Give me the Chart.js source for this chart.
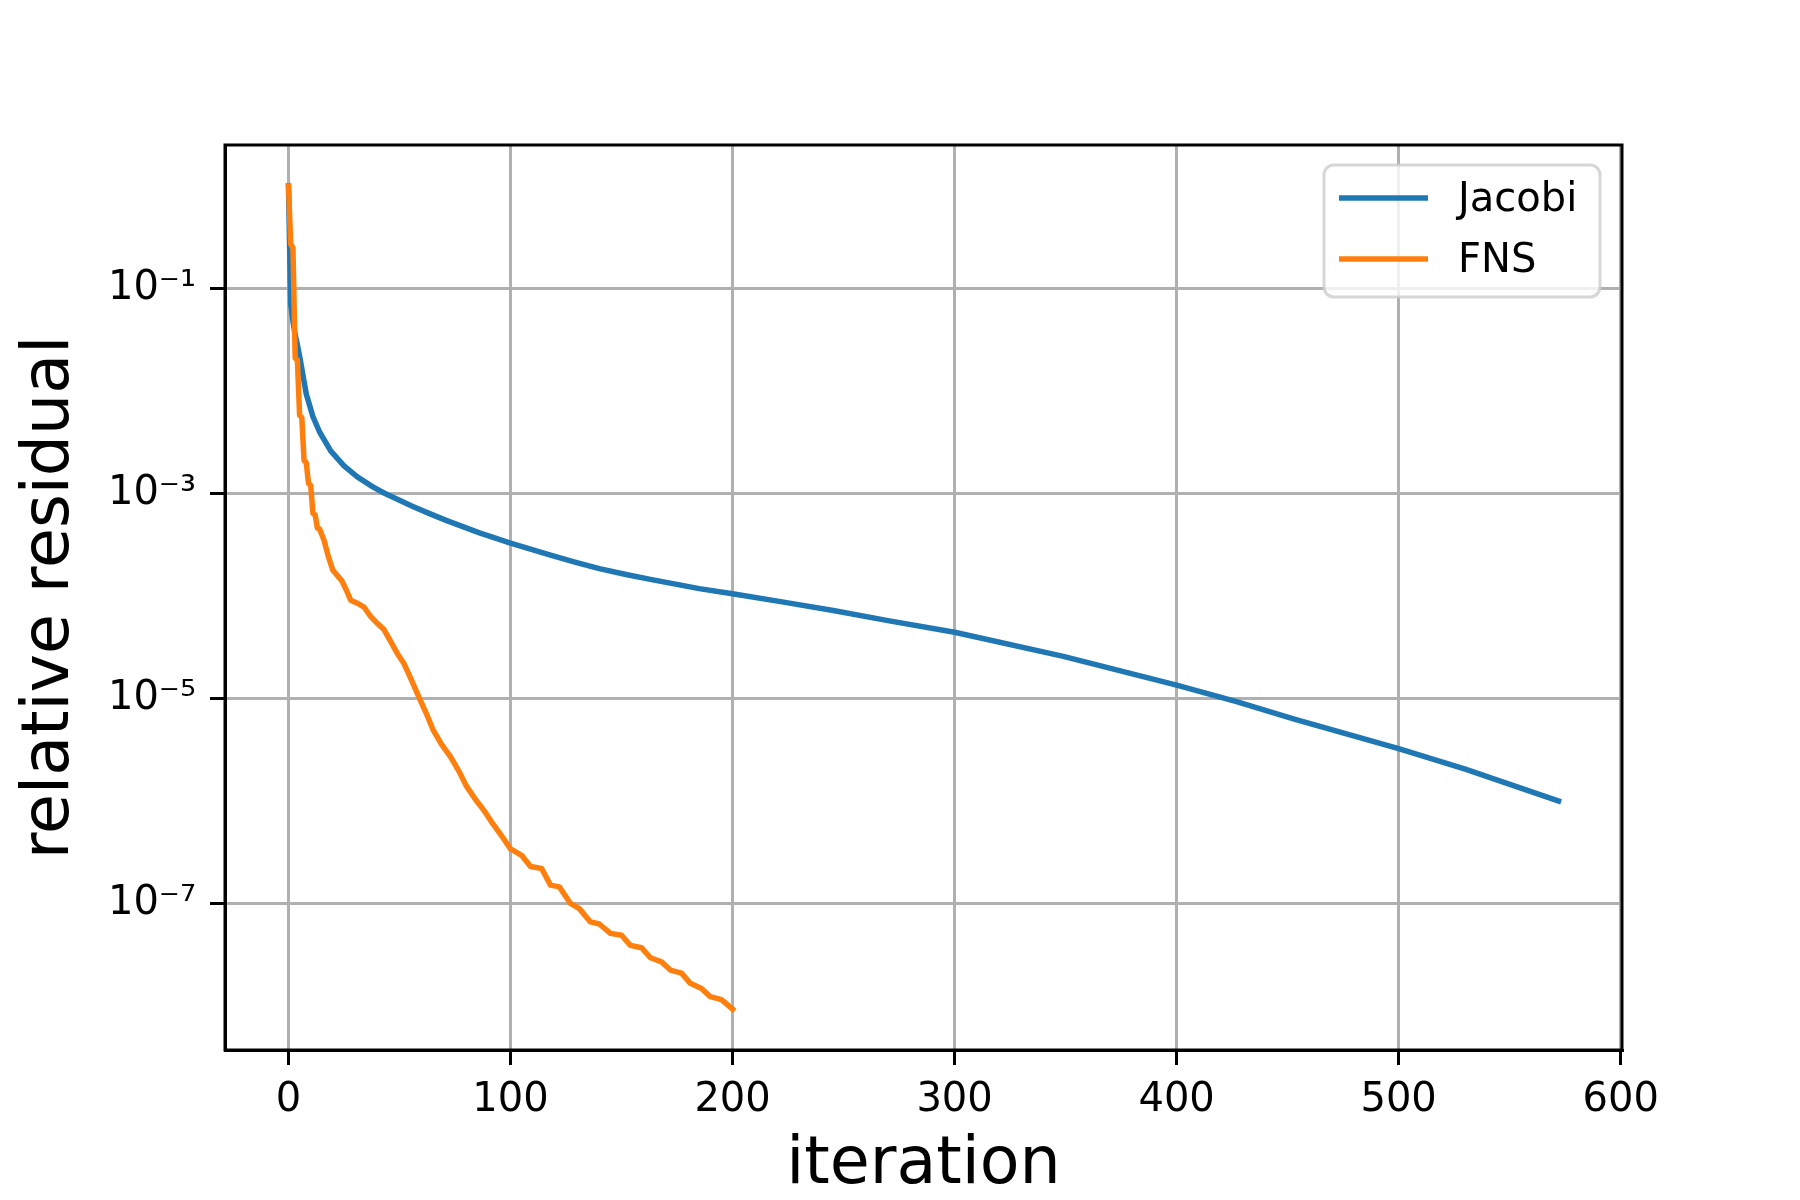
<!DOCTYPE html>
<html>
<head>
<meta charset="utf-8">
<script src="https://cdn.jsdelivr.net/npm/chart.js@4.4.1/dist/chart.umd.min.js"></script>
<style>html,body{margin:0;padding:0;background:#fff}canvas{display:block}</style>
</head>
<body>
<canvas id="c" width="1800" height="1200" style="width:1800px;height:1200px"></canvas>
<script>
// ---- data ----
const jacobiIter = [0,1,2,3,4,5,8,11,14,19,25,31,38,43,50,56,63,71,86,100,118,129,140,152,163,185,200,223,246,270,300,349,400,427,453,500,530,572];
const jacobiRes  = [1.0,0.0708,0.0479,0.0355,0.0282,0.0219,0.00933,0.00562,0.00398,0.0026,0.00186,0.00145,0.00116,0.00101,8.57e-4,7.48e-4,6.43e-4,5.46e-4,4.12e-4,3.27e-4,2.50e-4,2.14e-4,1.85e-4,1.62e-4,1.45e-4,1.18e-4,1.05e-4,8.71e-5,7.16e-5,5.75e-5,4.42e-5,2.57e-5,1.35e-5,9.3e-6,6.3e-6,3.24e-6,2.04e-6,1.0e-6];

const fnsIter = [0,1,2,3,4,5,6,7,8,9,10,11,12,13,14,16,18,20,22,24,26,28,31,34,37,40,43,46,49,52,55,59,62,65,69,73,77,80,84,88,92,96,100,105,109,114,118,122,127,131,136,140,145,150,154,159,163,168,172,177,181,186,190,195,200];
const fnsRes  = [1.0,0.27,0.25,0.021,0.020,0.0058,0.0055,0.0021,0.0020,0.00126,0.00120,6.4e-4,6.2e-4,4.6e-4,4.5e-4,3.5e-4,2.4e-4,1.78e-4,1.58e-4,1.41e-4,1.15e-4,9.1e-5,8.5e-5,7.8e-5,6.3e-5,5.4e-5,4.7e-5,3.6e-5,2.75e-5,2.19e-5,1.58e-5,1.0e-5,7.2e-6,5.0e-6,3.55e-6,2.69e-6,1.91e-6,1.41e-6,1.05e-6,8.1e-7,6.0e-7,4.57e-7,3.4e-7,2.95e-7,2.29e-7,2.19e-7,1.51e-7,1.45e-7,1.0e-7,8.9e-8,6.6e-8,6.3e-8,5.1e-8,4.9e-8,3.9e-8,3.7e-8,2.95e-8,2.69e-8,2.24e-8,2.09e-8,1.66e-8,1.48e-8,1.23e-8,1.15e-8,9.3e-9];

const seriesNames  = ['Jacobi', 'FNS'];
const seriesColors = ['#1f77b4', '#ff7f0e'];

const xTickValues = [0, 100, 200, 300, 400, 500, 600];
const xRange = [-28.6, 600.6];
const yTickValues = [1e-7, 1e-5, 1e-3, 1e-1];
const yTickLabels = ['10\u207B\u2077', '10\u207B\u2075', '10\u207B\u00B3', '10\u207B\u00B9'];
const yRange = [3.715e-9, 2.512];

const xTitle = 'iteration';
const yTitle = 'relative residual';

// ---- helpers ----
const FONT = '"DejaVu Sans", "Liberation Sans", sans-serif';
function toPoints(xs, ys) { return xs.map((x, i) => ({ x: x, y: ys[i] })); }

const framePlugin = {
  id: 'frame',
  afterDraw(chart) {
    const ctx = chart.ctx, a = chart.chartArea;
    ctx.save();
    ctx.strokeStyle = '#000';
    ctx.lineWidth = 3;
    ctx.strokeRect(a.left, a.top, a.right - a.left, a.bottom - a.top);
    ctx.restore();
  }
};

const legendPlugin = {
  id: 'boxLegend',
  afterDatasetsDraw(chart) {
    const ctx = chart.ctx;
    ctx.save();
    ctx.beginPath();
    ctx.roundRect(1324, 165, 276, 132, 10);
    ctx.fillStyle = 'rgba(255,255,255,0.8)';
    ctx.fill();
    ctx.lineWidth = 3;
    ctx.strokeStyle = 'rgba(204,204,204,0.8)';
    ctx.stroke();
    chart.data.datasets.forEach((ds, i) => {
      const y = 198 + i * 61;
      ctx.beginPath();
      ctx.moveTo(1339, y);
      ctx.lineTo(1428, y);
      ctx.strokeStyle = ds.borderColor;
      ctx.lineWidth = 5.5;
      ctx.lineCap = 'butt';
      ctx.stroke();
      ctx.fillStyle = '#000';
      ctx.font = '40px ' + FONT;
      ctx.textBaseline = 'middle';
      ctx.textAlign = 'left';
      ctx.fillText(ds.label, 1458, y + 3);
    });
    ctx.restore();
  }
};

new Chart(document.getElementById('c'), {
  type: 'line',
  data: {
    datasets: [
      {
        label: seriesNames[0],
        data: toPoints(jacobiIter, jacobiRes),
        borderColor: seriesColors[0],
        backgroundColor: seriesColors[0],
        borderWidth: 5.5,
        pointRadius: 0,
        tension: 0,
        fill: false,
        borderCapStyle: 'square',
        borderJoinStyle: 'round',
        order: 1
      },
      {
        label: seriesNames[1],
        data: toPoints(fnsIter, fnsRes),
        borderColor: seriesColors[1],
        backgroundColor: seriesColors[1],
        borderWidth: 5.5,
        pointRadius: 0,
        tension: 0,
        fill: false,
        borderCapStyle: 'square',
        borderJoinStyle: 'round',
        order: 0
      }
    ]
  },
  options: {
    responsive: false,
    devicePixelRatio: 1,
    animation: false,
    layout: { padding: { top: 145, right: 178, left: 0, bottom: 0 } },
    plugins: {
      legend: { display: false },
      tooltip: { enabled: false },
      title: { display: false }
    },
    scales: {
      x: {
        type: 'linear',
        min: xRange[0],
        max: xRange[1],
        afterFit(s) { s.height = 150; },
        afterBuildTicks(s) { s.ticks = xTickValues.map(v => ({ value: v })); },
        ticks: {
          autoSkip: false,
          maxRotation: 0,
          padding: 12,
          color: '#000',
          font: { family: FONT, size: 40 },
          callback: (v) => String(v)
        },
        grid: {
          color: '#b0b0b0',
          lineWidth: 3,
          tickLength: 15,
          tickColor: '#000',
          tickWidth: 3
        },
        border: { display: true, color: '#000', width: 3 },
        title: {
          display: true,
          text: xTitle,
          color: '#000',
          font: { family: FONT, size: 65, lineHeight: 1 },
          padding: { top: 0, bottom: 1 }
        }
      },
      y: {
        type: 'logarithmic',
        min: yRange[0],
        max: yRange[1],
        afterFit(s) { s.width = 225; },
        afterBuildTicks(s) { s.ticks = yTickValues.map(v => ({ value: v })); },
        ticks: {
          autoSkip: false,
          padding: 14,
          color: '#000',
          font: { family: FONT, size: 40 },
          callback: (v, i) => yTickLabels[i]
        },
        grid: {
          color: '#b0b0b0',
          lineWidth: 3,
          tickLength: 15,
          tickColor: '#000',
          tickWidth: 3
        },
        border: { display: true, color: '#000', width: 3 },
        title: {
          display: true,
          text: yTitle,
          color: '#000',
          font: { family: FONT, size: 65, lineHeight: 1 },
          padding: { top: 19, bottom: 0 }
        }
      }
    }
  },
  plugins: [legendPlugin, framePlugin]
});
</script>
</body>
</html>
